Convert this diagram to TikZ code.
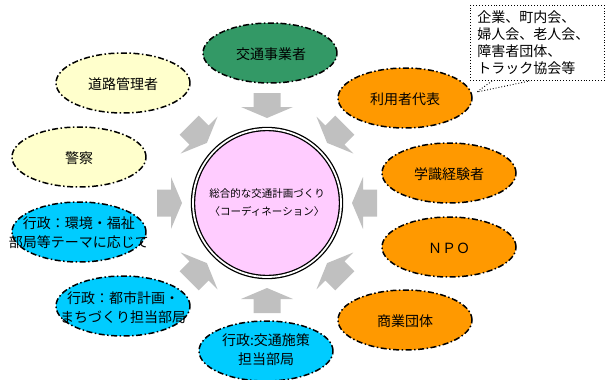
\documentclass[tikz,border=0pt]{standalone}
\usepackage{fontspec}
\setmainfont{Noto Sans CJK JP}
\usetikzlibrary{shapes.geometric}
\definecolor{cgreen}{HTML}{339966}
\definecolor{cyellow}{HTML}{FFFFCC}
\definecolor{corange}{HTML}{FF9900}
\definecolor{ccyan}{HTML}{00CCFF}
\definecolor{cpink}{HTML}{FFCCFF}
\definecolor{cgray}{HTML}{C0C0C0}
\begin{document}
\begin{tikzpicture}[x=1pt,y=-1pt,
  bubble/.style={ellipse,draw=black,line width=1.5pt,
    dash pattern=on 6pt off 2.5pt on 1.5pt off 2.5pt,
    minimum width=134pt,minimum height=60pt,inner sep=0pt},
  lbl/.style={font=\fontsize{14pt}{19pt}\selectfont,align=center,inner sep=0pt},
  hub/.style={circle,draw=black,line width=1.3pt,double=white,double distance=1.8pt,
    fill=cpink,minimum size=148pt,inner sep=0pt,
    font=\fontsize{10.5pt}{18pt}\selectfont,align=center},
  blockarrow/.style={fill=cgray,draw=none},
  calloutbox/.style={draw=black,dotted,line width=0.9pt,fill=white,
    text width=120pt,align=left,inner xsep=7pt,inner ysep=0pt,
    minimum height=75pt,font=\fontsize{14pt}{17pt}\selectfont}
]
\useasboundingbox (0,0) rectangle (605,380);

% block arrows towards the hub
\begin{scope}[shift={(267,203)}]
  \foreach \a in {0,45,...,315}{
    \fill[blockarrow,rotate=\a] (85,0) -- (96,-26) -- (96,-13.5) -- (110,-13.5)
      -- (110,13.5) -- (96,13.5) -- (96,26) -- cycle;
  }
\end{scope}

% hub
\node[hub] (hub) at (267,203) {総合的な交通計画づくり\\〈コーディネーション〉};

% surrounding bubbles
\node[bubble,fill=cgreen]  (e1) at (270,53) {};
\node[lbl] (t1) at (271,54) {交通事業者};
\node[bubble,fill=cyellow] (e2) at (123,83) {};
\node[lbl] (t2) at (123,84) {道路管理者};
\node[bubble,fill=cyellow] (e3) at (79,157) {};
\node[lbl] (t3) at (79,158) {警察};
\node[bubble,fill=corange] (e4) at (405,98) {};
\node[lbl] (t4) at (405,99) {利用者代表};
\node[bubble,fill=corange] (e5) at (449,173) {};
\node[lbl] (t5) at (449,174) {学識経験者};
\node[bubble,fill=corange] (e6) at (449,247) {};
\node[lbl] (t6) at (449,248) {ＮＰＯ};
\node[bubble,fill=corange] (e7) at (405,320) {};
\node[lbl] (t7) at (405,321) {商業団体};
\node[bubble,fill=ccyan] (e8) at (266,351) {};
\node[lbl] (t8) at (266,350) {行政:交通施策\\担当部局};
\node[bubble,fill=ccyan] (e9) at (123,306) {};
\node[lbl] (t9) at (123,307.5) {行政：都市計画・\\まちづくり担当部局};
\node[bubble,fill=ccyan] (e10) at (79,232) {};
\node[lbl] (t10) at (79,232.5) {行政：環境・福祉\\部局等テーマに応じて};

% callout
\node[calloutbox,anchor=north west] (cb) at (470,5)
  {企業、町内会、\\婦人会、老人会、\\障害者団体、\\トラック協会等};
\coordinate (ptip) at (477,92);
\draw[dotted,line width=0.9pt] ([xshift=22pt]cb.south west) -- (ptip) -- ([xshift=60pt]cb.south west);
\end{tikzpicture}
\end{document}
